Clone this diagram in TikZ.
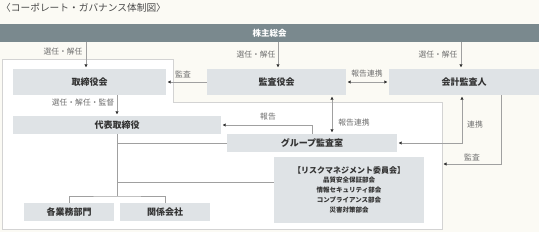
\documentclass[tikz,border=0pt]{standalone}
\usepackage{fontspec}
\setmainfont{Noto Sans CJK JP}
\usetikzlibrary{arrows.meta}
\definecolor{bandc}{HTML}{7A898E}
\definecolor{boxc}{HTML}{DFE3E6}
\definecolor{linec}{HTML}{A0A0A0}
\definecolor{txtc}{HTML}{333333}
\definecolor{lblc}{HTML}{6E6E6E}
\definecolor{titc}{HTML}{4A4A4A}
\definecolor{bgc}{HTML}{FBFAF4}
\definecolor{framec}{HTML}{D3D3D3}
\definecolor{tipc}{HTML}{333333}
\begin{document}
\begin{tikzpicture}[x=1pt,y=-1pt,
 box/.style={fill=boxc,inner sep=0pt,text=txtc,font=\fontsize{9}{10}\selectfont\bfseries,anchor=center},
 lbl/.style={text=lblc,font=\fontsize{7.8}{9}\selectfont,inner sep=0pt},
 conn/.style={draw=linec,line width=0.8pt},
 tip/.tip={Triangle[length=3pt,width=3pt,color=tipc]},
 arr/.style={conn,-tip,shorten >=1.5pt},
 darr/.style={conn,tip-tip,shorten >=1.5pt,shorten <=1.5pt}]
\useasboundingbox (0,0) rectangle (539,232);
\fill[bgc] (0,0) rectangle (539,232);
% outer frame
\coordinate (f1) at (2,60);
\coordinate (f2) at (173,60);
\coordinate (f3) at (173,103);
\coordinate (f4) at (442,103);
\coordinate (f5) at (442,230);
\coordinate (f6) at (2,230);
\filldraw[fill=white,draw=framec,line width=1pt] (f1) -- (f2) -- (f3) -- (f4) -- (f5) -- (f6) -- cycle;
\coordinate (auditEnd) at (442,164);
% title
\node[anchor=west,inner sep=0pt,text=titc,font=\fontsize{9.7}{11}\selectfont] (title) at (1,8) {〈コーポレート・ガバナンス体制図〉};
% band
\node[fill=bandc,inner sep=0pt,minimum width=539pt,minimum height=18pt,text=white,font=\fontsize{8.5}{10}\selectfont\bfseries] (band) at (269.5,33) {株主総会};
% boxes
\node[box,minimum width=153pt,minimum height=26pt] (tori) at (89.5,82) {取締役会};
\node[box,minimum width=139pt,minimum height=26pt] (kansa) at (276.5,82) {監査役会};
\node[box,minimum width=150pt,minimum height=26pt] (kaikei) at (464,82) {会計監査人};
\node[box,minimum width=208pt,minimum height=18pt] (daihyo) at (117,125) {代表取締役};
\node[box,minimum width=170pt,minimum height=18pt] (group) at (312,143) {グループ監査室};
\node[box,minimum width=150pt,minimum height=66pt,align=center] (risk) at (349,190)
 {{\fontsize{8}{10}\selectfont 【リスクマネジメント委員会】}\\[-0.5pt]
  {\fontsize{6.5}{10.5}\selectfont 品質安全保証部会}\\
  {\fontsize{6.5}{10.5}\selectfont 情報セキュリティ部会}\\
  {\fontsize{6.5}{10.5}\selectfont コンプライアンス部会}\\
  {\fontsize{6.5}{10.5}\selectfont 災害対策部会}};
\node[box,minimum width=90pt,minimum height=18pt] (gyomu) at (69,212) {各業務部門};
\node[box,minimum width=90pt,minimum height=18pt] (kankei) at (165,212) {関係会社};
% connectors from band
\draw[arr] ([xshift=-3.5pt]tori.north |- band.south) -- ([xshift=-3.5pt]tori.north);
\draw[arr] ([xshift=1.5pt]kansa.north |- band.south) -- ([xshift=1.5pt]kansa.north);
\draw[arr] ([xshift=-3pt]kaikei.north |- band.south) -- ([xshift=-3pt]kaikei.north);
\node[lbl] (l1) at (63,52) {選任・解任};
\node[lbl] (l2) at (256,55) {選任・解任};
\node[lbl] (l3) at (438,55) {選任・解任};
% audit board -> board
\draw[arr] (kansa.west) -- (tori.east);
\node[lbl] (l4) at (183,74) {監査};
\draw[darr] (kansa.east) -- (kaikei.west);
\node[lbl] (l5) at (367,74) {報告連携};
% board -> president
\draw[arr] (daihyo.north |- tori.south) -- (daihyo.north);
\node[lbl] (l6) at (83,103) {選任・解任・監督};
% group <-> audit board
\draw[darr] ([xshift=20pt]group.north) -- ([xshift=20pt]group.north |- kansa.south);
\node[lbl] (l7) at (354,123) {報告連携};
% group -> president
\draw[arr] (group.north) |- (daihyo.east);
\node[lbl] (l8) at (268,117) {報告};
% accountant <-> group
\draw[darr] ([xshift=-2pt]kaikei.south) |- (group.east);
\node[lbl] (l9) at (475,125) {連携};
% accountant -> frame
\draw[arr] ([xshift=37pt]kaikei.south) |- (auditEnd);
\node[lbl] (l10) at (472,157) {監査};
% tree
\coordinate (treeJ) at (117,196);
\coordinate (rb) at ([yshift=8pt]risk.west);
\draw[conn] (daihyo.south) -- (treeJ);
\draw[conn] (gyomu.north) |- (treeJ) -| (kankei.north);
\draw[conn] (daihyo.south |- group.west) -- (group.west);
\draw[conn] (daihyo.south |- rb) -- (rb);
\end{tikzpicture}
\end{document}
